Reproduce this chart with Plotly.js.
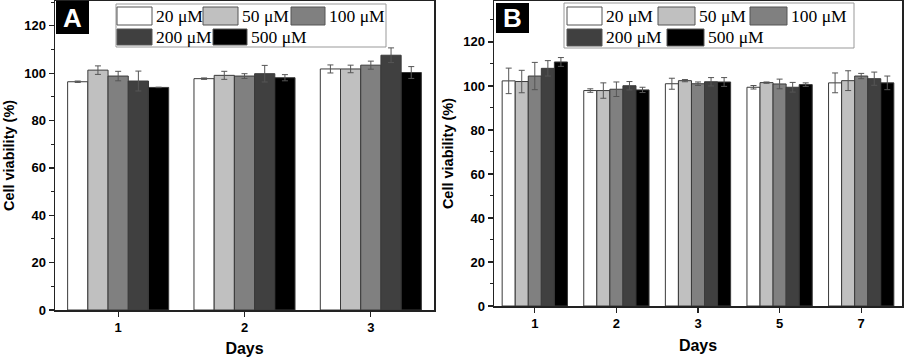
<!DOCTYPE html>
<html>
<head>
<meta charset="utf-8">
<script src="https://cdn.plot.ly/plotly-3.0.1.min.js"></script>
<style>html,body{margin:0;padding:0;background:#fff;}#chart{width:908px;height:357px;}</style>
</head>
<body>
<div id="chart"></div>
<script>
// ---- data ----
const seriesNames = ['20 μM', '50 μM', '100 μM', '200 μM', '500 μM'];

const daysA = ['1', '2', '3'];
const a20  = [96.4, 97.7, 101.8];
const a50  = [101.3, 99.1, 101.8];
const a100 = [98.8, 98.8, 103.4];
const a200 = [96.7, 99.8, 107.6];
const a500 = [94.0, 98.1, 100.3];
const a20err  = [0.3, 0.3, 1.7];
const a50err  = [1.8, 1.7, 1.6];
const a100err = [2.0, 1.0, 1.7];
const a200err = [4.2, 3.5, 3.1];
const a500err = [0.1, 1.3, 2.5];

const daysB = ['1', '2', '3', '5', '7'];
const b20  = [102.3, 97.9, 101.0, 99.4, 101.4];
const b50  = [102.0, 97.9, 102.4, 101.5, 102.4];
const b100 = [104.5, 98.5, 101.0, 100.9, 104.5];
const b200 = [108.0, 100.1, 101.9, 99.4, 103.3];
const b500 = [110.9, 98.2, 101.8, 100.6, 101.4];
const b20err  = [5.8, 0.8, 2.5, 0.8, 4.5];
const b50err  = [5.1, 3.5, 0.5, 0.3, 4.5];
const b100err = [6.2, 3.3, 0.8, 2.2, 1.2];
const b200err = [3.5, 1.9, 1.9, 2.2, 3.0];
const b500err = [2.0, 1.2, 2.0, 0.8, 3.1];

// ---- styles ----
const fills = ['#ffffff', '#c0c0c0', '#808080', '#404040', '#000000'];
const W = 908, H = 357;
const px = x => x / W;
const py = y => 1 - y / H;

const valsA = [a20, a50, a100, a200, a500];
const errsA = [a20err, a50err, a100err, a200err, a500err];
const valsB = [b20, b50, b100, b200, b500];
const errsB = [b20err, b50err, b100err, b200err, b500err];

const traces = [];
function addBars(days, vals, errs, xa, ya) {
  for (let i = 0; i < seriesNames.length; i++) {
    traces.push({
      type: 'bar', name: seriesNames[i], x: days, y: vals[i],
      xaxis: xa, yaxis: ya, showlegend: false,
      marker: {color: fills[i], line: {color: '#3a3a3a', width: 1}},
      error_y: {type: 'data', array: errs[i], visible: true, color: '#555555', thickness: 1, width: 3}
    });
  }
}
addBars(daysA, valsA, errsA, 'x', 'y');
addBars(daysB, valsB, errsB, 'x2', 'y2');

const sans = 'Liberation Sans, Arial, sans-serif';
const tickFont = {family: sans, size: 13, color: '#000', weight: 'bold'};
const titleFont = {family: sans, size: 14.5, color: '#000', weight: 'bold'};
const daysFont = {family: sans, size: 16, color: '#000', weight: 'bold'};

function yaxisDef(domain, top) {
  return {
    domain: domain, range: [0, top], autorange: false,
    tickmode: 'array', tickvals: [0, 20, 40, 60, 80, 100, 120],
    ticks: 'outside', ticklen: 5, tickwidth: 1.2, tickcolor: '#222',
    minor: {dtick: 10, ticks: 'outside', ticklen: 3, tickwidth: 1, tickcolor: '#222'},
    showgrid: false, zeroline: false,
    showline: true, linecolor: '#222', linewidth: 1.5, mirror: true,
    tickfont: tickFont, automargin: false,
    title: {text: 'Cell viability (%)', font: titleFont, standoff: 6}
  };
}
function xaxisDef(domain, anchor) {
  return {
    domain: domain, anchor: anchor, type: 'category',
    ticks: 'outside', ticklen: 5, tickwidth: 1.2, tickcolor: '#222',
    showgrid: false, zeroline: false,
    showline: true, linecolor: '#222', linewidth: 1.5, mirror: true,
    tickfont: tickFont, automargin: false,
    title: {text: 'Days', font: daysFont, standoff: 9}
  };
}

const shapes = [], annotations = [];
function panelLabel(x0, y0, x1, y1, txt) {
  shapes.push({type: 'rect', xref: 'paper', yref: 'paper', x0: px(x0), x1: px(x1), y0: py(y1), y1: py(y0),
    fillcolor: '#000', line: {width: 0}});
  annotations.push({xref: 'paper', yref: 'paper', x: px((x0 + x1) / 2), y: py((y0 + y1) / 2),
    xanchor: 'center', yanchor: 'middle', showarrow: false, text: txt,
    font: {family: sans, size: 26, color: '#fff', weight: 'bold'}});
}
function legendBox(box, items) {
  shapes.push({type: 'rect', xref: 'paper', yref: 'paper', x0: px(box[0]), x1: px(box[2]), y0: py(box[3]), y1: py(box[1]),
    fillcolor: '#fff', line: {color: '#999', width: 1}});
  items.forEach((it, i) => {
    shapes.push({type: 'rect', xref: 'paper', yref: 'paper', x0: px(it[0]), x1: px(it[2]), y0: py(it[3]), y1: py(it[1]),
      fillcolor: fills[i], line: {color: '#555', width: 1}});
    annotations.push({xref: 'paper', yref: 'paper', x: px(it[2] + 2), y: py((it[1] + it[3]) / 2),
      xanchor: 'left', yanchor: 'middle', showarrow: false, text: seriesNames[i],
      font: {family: 'Liberation Serif, Times New Roman, serif', size: 17.5, color: '#000'}});
  });
}

panelLabel(56, 1, 89, 34, 'A');
panelLabel(496, 3, 529, 33, 'B');
legendBox([116, 4, 386, 47], [[117, 7, 152, 25], [203, 7, 238, 25], [291, 7, 325, 25], [117, 29, 152, 45], [213, 29, 247, 45]]);
legendBox([564, 3, 854, 48], [[567, 7, 602, 25], [658, 7, 695, 25], [750, 7, 787, 25], [567, 29, 602, 46], [667, 29, 704, 46]]);

const layout = {
  width: W, height: H,
  margin: {l: 0, r: 0, t: 0, b: 0},
  paper_bgcolor: '#fff', plot_bgcolor: '#fff',
  barmode: 'group', bargap: 0.2, bargroupgap: 0,
  showlegend: false,
  xaxis: xaxisDef([px(55), px(434)], 'y'),
  yaxis: yaxisDef([1 - 310 / H, 1 - 1 / H], 130.5),
  xaxis2: xaxisDef([px(494), px(902)], 'y2'),
  yaxis2: Object.assign(yaxisDef([1 - 306 / H, 1 - 1 / H], 138.6), {anchor: 'x2'}),
  shapes: shapes, annotations: annotations
};
layout.yaxis.anchor = 'x';

Plotly.newPlot('chart', traces, layout, {displayModeBar: false, staticPlot: true});
</script>
</body>
</html>
